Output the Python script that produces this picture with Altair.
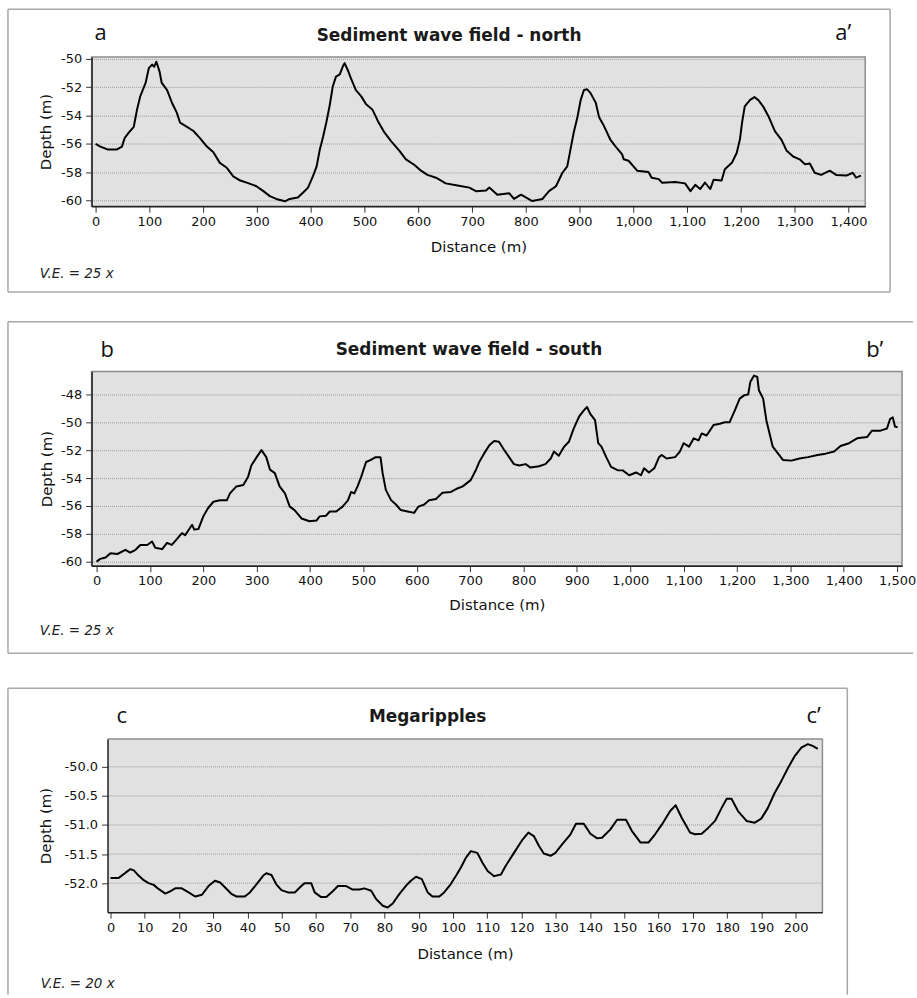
import altair as alt
import pandas as pd

# ---------------- data ----------------
A_TITLE = "Sediment wave field - north"
B_TITLE = "Sediment wave field - south"
C_TITLE = "Megaripples"

A_DIST = [0, 9, 22, 40, 49, 54, 62, 71, 77, 83,
          93, 99, 105, 109, 113, 119, 123, 133, 142, 151,
          157, 170, 182, 194, 207, 219, 231, 244, 256, 269,
          281, 299, 312, 324, 336, 352, 361, 376, 386, 395,
          404, 411, 417, 423, 429, 435, 441, 447, 454, 460,
          463, 469, 475, 484, 494, 503, 515, 525, 537, 549,
          565, 577, 593, 605, 617, 633, 651, 673, 695, 707,
          726, 732, 747, 769, 778, 791, 812, 831, 843, 856,
          868, 877, 883, 889, 896, 902, 908, 914, 920, 930,
          936, 944, 957, 967, 979, 982, 991, 1007, 1028, 1034,
          1047, 1053, 1078, 1096, 1106, 1115, 1124, 1133, 1143, 1149,
          1164, 1170, 1183, 1192, 1198, 1202, 1207, 1217, 1225, 1232,
          1241, 1251, 1263, 1275, 1285, 1297, 1309, 1319, 1328, 1337,
          1349, 1365, 1377, 1396, 1408, 1414, 1423]
A_DEPTH = [-56.0, -56.2, -56.4, -56.4, -56.2, -55.6, -55.2, -54.8, -53.6, -52.65,
           -51.7, -50.65, -50.4, -50.55, -50.2, -50.9, -51.7, -52.2, -53.1, -53.8,
           -54.5, -54.8, -55.1, -55.6, -56.2, -56.6, -57.35, -57.7, -58.3, -58.6,
           -58.75, -59.0, -59.35, -59.7, -59.9, -60.07, -59.9, -59.8, -59.45, -59.1,
           -58.3, -57.6, -56.4, -55.5, -54.5, -53.35, -51.95, -51.25, -51.1, -50.5,
           -50.3, -50.8, -51.4, -52.2, -52.65, -53.2, -53.6, -54.4, -55.2, -55.8,
           -56.5, -57.1, -57.5, -57.9, -58.2, -58.4, -58.8, -58.95, -59.1, -59.35,
           -59.3, -59.1, -59.6, -59.5, -59.9, -59.6, -60.05, -59.9, -59.35, -59.0,
           -58.05, -57.6, -56.4, -55.2, -54.1, -52.9, -52.2, -52.15, -52.4, -53.1,
           -54.1, -54.65, -55.7, -56.2, -56.75, -57.1, -57.2, -57.9, -58.0, -58.4,
           -58.5, -58.75, -58.7, -58.8, -59.35, -58.9, -59.2, -58.75, -59.2, -58.55,
           -58.6, -57.8, -57.35, -56.65, -55.7, -54.5, -53.35, -52.9, -52.7, -52.9,
           -53.35, -54.05, -55.1, -55.7, -56.5, -56.9, -57.1, -57.45, -57.4, -58.05,
           -58.2, -57.9, -58.2, -58.25, -58.05, -58.4, -58.25]

B_DIST = [0, 7, 17, 26, 39, 54, 63, 73, 82, 95,
          104, 110, 123, 132, 141, 150, 160, 166, 179, 183,
          191, 200, 209, 219, 231, 244, 250, 262, 275, 284,
          290, 300, 309, 318, 325, 334, 343, 353, 362, 371,
          384, 399, 412, 418, 430, 437, 449, 461, 471, 477,
          483, 489, 496, 505, 514, 523, 532, 536, 542, 552,
          561, 570, 583, 595, 603, 614, 623, 636, 648, 664,
          676, 686, 701, 711, 717, 726, 736, 745, 754, 764,
          773, 782, 792, 804, 813, 829, 841, 851, 857, 866,
          876, 885, 894, 904, 913, 919, 925, 934, 940, 946,
          955, 964, 977, 986, 998, 1011, 1020, 1026, 1035, 1045,
          1054, 1059, 1068, 1084, 1093, 1100, 1110, 1119, 1128, 1134,
          1143, 1156, 1168, 1177, 1186, 1196, 1205, 1214, 1221, 1225,
          1232, 1238, 1241, 1249, 1255, 1261, 1267, 1277, 1286, 1302,
          1317, 1333, 1351, 1366, 1382, 1394, 1410, 1425, 1444, 1453,
          1469, 1481, 1487, 1492, 1496, 1501]
B_DEPTH = [-60.0, -59.8, -59.7, -59.4, -59.45, -59.15, -59.35, -59.15, -58.8, -58.8,
           -58.55, -59.0, -59.1, -58.65, -58.8, -58.4, -57.95, -58.1, -57.35, -57.7,
           -57.65, -56.75, -56.15, -55.7, -55.6, -55.6, -55.1, -54.6, -54.5, -53.9,
           -53.1, -52.5, -52.0, -52.5, -53.4, -53.65, -54.6, -55.1, -56.05, -56.3,
           -56.9, -57.1, -57.05, -56.75, -56.7, -56.4, -56.4, -56.05, -55.6, -55.0,
           -55.1, -54.6, -53.9, -52.85, -52.7, -52.5, -52.5, -53.65, -54.85, -55.6,
           -55.9, -56.3, -56.4, -56.5, -56.05, -55.9, -55.6, -55.5, -55.05, -55.0,
           -54.75, -54.6, -54.15, -53.4, -52.85, -52.25, -51.65, -51.35, -51.4, -52.0,
           -52.5, -53.0, -53.1, -53.0, -53.25, -53.15, -53.0, -52.6, -52.1, -52.4,
           -51.75, -51.4, -50.45, -49.6, -49.15, -48.9, -49.4, -49.85, -51.5, -51.75,
           -52.5, -53.2, -53.45, -53.45, -53.8, -53.6, -53.8, -53.3, -53.6, -53.3,
           -52.5, -52.35, -52.6, -52.5, -52.1, -51.5, -51.75, -51.15, -51.3, -50.8,
           -50.95, -50.2, -50.1, -50.0, -50.0, -49.15, -48.3, -48.05, -48.0, -47.1,
           -46.65, -46.75, -47.7, -48.3, -49.85, -50.8, -51.75, -52.25, -52.7, -52.75,
           -52.6, -52.5, -52.35, -52.25, -52.1, -51.7, -51.5, -51.15, -51.05, -50.6,
           -50.6, -50.45, -49.75, -49.65, -50.3, -50.35]

C_DIST = [0, 2.4, 4.4, 5.8, 6.8, 8.2, 9.7, 11.1, 12.6, 14.0,
          16.0, 17.4, 18.9, 20.8, 22.8, 24.7, 26.7, 28.6, 30.5, 32.0,
          33.9, 35.4, 36.8, 39.2, 40.7, 42.6, 44.6, 45.5, 47.0, 48.4,
          49.9, 51.8, 53.8, 55.7, 56.7, 58.6, 59.6, 61.5, 63.0, 64.9,
          66.4, 68.8, 70.7, 72.7, 74.1, 76.1, 77.5, 79.5, 80.9, 82.4,
          84.3, 86.2, 87.7, 89.2, 90.9, 92.6, 94.0, 96.0, 97.4, 99.3,
          101.0, 102.3, 103.8, 105.2, 107.1, 108.6, 110.1, 112.0, 114.0, 115.4,
          117.8, 120.3, 122.0, 123.6, 125.1, 126.5, 128.5, 129.9, 131.9, 134.3,
          135.9, 138.2, 140.1, 142.1, 143.5, 145.9, 147.9, 150.5, 152.2, 154.7,
          157.1, 159.0, 161.0, 163.4, 165.0, 166.8, 169.2, 170.6, 172.6, 174.5,
          176.5, 178.4, 179.9, 181.3, 183.2, 185.7, 188.1, 190.0, 191.9, 193.9,
          195.8, 197.8, 199.7, 201.7, 203.6, 205.0, 206.5]
C_DEPTH = [-51.91, -51.91, -51.82, -51.76, -51.78, -51.87, -51.95, -52.0, -52.03, -52.1,
           -52.18, -52.14, -52.09, -52.09, -52.16, -52.23, -52.2, -52.05, -51.96, -51.99,
           -52.1, -52.19, -52.23, -52.23, -52.16, -52.02, -51.87, -51.83, -51.86, -52.02,
           -52.12, -52.16, -52.16, -52.05, -52.0, -52.0, -52.16, -52.24, -52.24, -52.14,
           -52.05, -52.05, -52.11, -52.11, -52.09, -52.13, -52.27, -52.39, -52.42, -52.35,
           -52.19, -52.05, -51.96, -51.89, -51.93, -52.16, -52.23, -52.23, -52.16, -52.02,
           -51.86, -51.73, -51.56, -51.45, -51.48, -51.65, -51.79, -51.88, -51.85, -51.7,
           -51.48, -51.25, -51.13, -51.19, -51.36, -51.49, -51.53, -51.48, -51.33, -51.16,
           -50.98, -50.98, -51.15, -51.23, -51.22, -51.08, -50.91, -50.91, -51.1, -51.3,
           -51.3, -51.16, -50.99, -50.76, -50.66, -50.88, -51.13, -51.16, -51.15, -51.05,
           -50.93, -50.71, -50.55, -50.55, -50.76, -50.93, -50.96, -50.89, -50.71, -50.45,
           -50.25, -50.02, -49.82, -49.67, -49.61, -49.64, -49.69]

A_XTICKS = [0, 100, 200, 300, 400, 500, 600, 700, 800, 900, 1000, 1100, 1200, 1300, 1400]
A_YTICKS = [-50, -52, -54, -56, -58, -60]
B_XTICKS = [0, 100, 200, 300, 400, 500, 600, 700, 800, 900, 1000, 1100, 1200, 1300, 1400, 1500]
B_YTICKS = [-48, -50, -52, -54, -56, -58, -60]
C_XTICKS = [0, 10, 20, 30, 40, 50, 60, 70, 80, 90, 100, 110, 120, 130, 140, 150,
            160, 170, 180, 190, 200]
C_YTICKS = [-50.0, -50.5, -51.0, -51.5, -52.0]

A_XDOM, A_YDOM = [-7.4, 1431], [-60.42, -49.86]
B_XDOM, B_YDOM = [-9.3, 1509.3], [-60.29, -46.36]
C_XDOM, C_YDOM = [-0.87, 207.85], [-52.50, -49.52]

# ---------------- styling ----------------
FONT = "DejaVu Sans"
LETTER_FONT = "Open Sans"
INK = "#111111"
FILL = "#e1e1e1"
PLOT_EDGE = "#8c8c8c"
GRID = "#9a9a9a"
BOX = "#a8a8a8"
DUMMY = pd.DataFrame({"k": [0]})


def hrule(x1, x2, y, color=BOX, width=1.5, opacity=1.0):
    return alt.Chart(DUMMY).mark_rule(color=color, strokeWidth=width, opacity=opacity).encode(
        x=alt.value(x1), x2=alt.value(x2), y=alt.value(y))


def vrule(x, y1, y2, color=BOX, width=1.5):
    return alt.Chart(DUMMY).mark_rule(color=color, strokeWidth=width).encode(
        x=alt.value(x), y=alt.value(y1), y2=alt.value(y2))


def text(s, x, y, size, font=FONT, weight="normal", style="normal", align="left", color=INK):
    return alt.Chart(pd.DataFrame({"t": [s]})).mark_text(
        font=font, fontSize=size, fontWeight=weight, fontStyle=style,
        align=align, baseline="alphabetic", color=color
    ).encode(x=alt.value(x), y=alt.value(y), text="t:N")


def x_axis(values, fmt, title_y, **extra):
    return alt.Axis(
        values=values, title="Distance (m)", grid=False,
        labelExpr=f"format(datum.value, '{fmt}')",
        labelFont=FONT, labelFontSize=13, labelColor=INK, labelPadding=3,
        labelFlush=False, labelOverlap=False,
        tickSize=6, tickColor="#333333", tickWidth=1,
        domainColor="#222222", domainWidth=1.5,
        titleFont=FONT, titleFontSize=15, titleFontWeight="normal", titleColor=INK,
        titleY=title_y, titleBaseline="alphabetic", **extra)


def y_axis(values, fmt, title_x, title_y, grid=True, **extra):
    expr = (f"datum.value < 0 ? '-' + format(-datum.value, '{fmt}') "
            f": format(datum.value, '{fmt}')")
    return alt.Axis(
        values=values, title="Depth (m)", grid=grid,
        gridColor=GRID, gridDash=[1, 1], gridWidth=1,
        labelExpr=expr, labelFont=FONT, labelFontSize=13, labelColor=INK, labelPadding=4,
        labelFlush=False, labelOverlap=False,
        tickSize=6, tickColor="#333333", tickWidth=1,
        domainColor="#222222", domainWidth=1.5,
        titleFont=FONT, titleFontSize=15, titleFontWeight="normal", titleColor=INK,
        titleX=title_x, titleY=title_y, titleBaseline="middle", **extra)


def line(dist, depth, xscale, yscale, xaxis, yaxis):
    df = pd.DataFrame({"d": dist, "z": depth})
    return alt.Chart(df).mark_line(color="black", strokeWidth=2, strokeJoin="round").encode(
        x=alt.X("d:Q", scale=xscale, axis=xaxis),
        y=alt.Y("z:Q", scale=yscale, axis=yaxis))


# ---------------- panel a ----------------
AW, AH = 777, 150
a_line = line(A_DIST, A_DEPTH,
              alt.Scale(domain=A_XDOM, nice=False, zero=False),
              alt.Scale(domain=A_YDOM, nice=False, zero=False),
              x_axis(A_XTICKS, ",d", 45),
              y_axis(A_YTICKS, "d", -46, AH / 2))
panel_a = alt.layer(
    hrule(-84, 802, -48), hrule(-84, 802, 236), vrule(-84, -48, 236), vrule(802, -48, 236),
    a_line,
    text(A_TITLE, 359, -16, 17, weight="bold", align="center", color="#1a1a1a"),
    text("a", 3, -17, 22, font=LETTER_FONT),
    text("a\u2019", 747, -17, 22, font=LETTER_FONT),
    text("V.E. = 25 x", -52, 222, 13.5, style="italic", color="#222222"),
).properties(width=AW, height=AH)

# ---------------- panel b ----------------
BW, BH = 814, 195
b_line = line(B_DIST, B_DEPTH,
              alt.Scale(domain=B_XDOM, nice=False, zero=False),
              alt.Scale(domain=B_YDOM, nice=False, zero=False),
              x_axis(B_XTICKS, ",d", 44),
              y_axis(B_YTICKS, "d", -45, BH / 2))
panel_b = alt.layer(
    hrule(-84, 825, -50), hrule(-84, 825, 283), vrule(-84, -50, 283),
    hrule(-84, 0, 289, opacity=0.0),
    b_line,
    text(B_TITLE, 379, -17, 17, weight="bold", align="center", color="#1a1a1a"),
    text("b", 9, -15, 22, font=LETTER_FONT),
    text("b\u2019", 778, -15, 22, font=LETTER_FONT),
    text("V.E. = 25 x", -52, 265, 13.5, style="italic", color="#222222"),
).properties(width=BW, height=BH)

# ---------------- panel c ----------------
CW, CH, CX0 = 734, 174, 16
c_yscale = alt.Scale(domain=C_YDOM, nice=False, zero=False)
c_yaxis = y_axis(C_YTICKS, ".1f", -62, CH / 2, grid=False, offset=-CX0, zindex=1)
c_line = line(C_DIST, C_DEPTH,
              alt.Scale(domain=C_XDOM, range=[CX0, CW], nice=False, zero=False),
              c_yscale,
              x_axis(C_XTICKS, "d", 47, zindex=1),
              c_yaxis)
c_bg = alt.Chart(DUMMY).mark_rect(color=FILL).encode(
    x=alt.value(CX0), x2=alt.value(CW), y=alt.value(0), y2=alt.value(CH))
c_grid = alt.Chart(pd.DataFrame({"v": C_YTICKS})).mark_rule(
    color=GRID, strokeDash=[1, 1], strokeWidth=1
).encode(y=alt.Y("v:Q", scale=c_yscale, axis=c_yaxis), x=alt.value(CX0), x2=alt.value(CW))
panel_c = alt.layer(
    c_bg, c_grid,
    hrule(CX0, CW, 0, color=PLOT_EDGE, width=1.5), vrule(CW, 0, CH, color=PLOT_EDGE, width=1.5),
    c_line,
    hrule(-84, 759, -51), vrule(-84, -51, 257), vrule(759, -51, 257),
    text(C_TITLE, 337.5, -17, 17, weight="bold", align="center", color="#1a1a1a"),
    text("c", 25, -16, 22, font=LETTER_FONT),
    text("c\u2019", 718, -16, 22, font=LETTER_FONT),
    text("V.E. = 20 x", -51, 250, 13.5, style="italic", color="#222222"),
).properties(width=CW, height=CH,
             view=alt.ViewBackground(fill="transparent", stroke="transparent"))

chart = alt.vconcat(panel_a, panel_b, panel_c, spacing=26).properties(
    padding={"left": 6, "top": 5, "right": 0, "bottom": 0},
    background="white",
).configure_view(fill=FILL, stroke=PLOT_EDGE, strokeWidth=1.5)

chart.save("out.html", embed_options={"renderer": "svg", "actions": False})
